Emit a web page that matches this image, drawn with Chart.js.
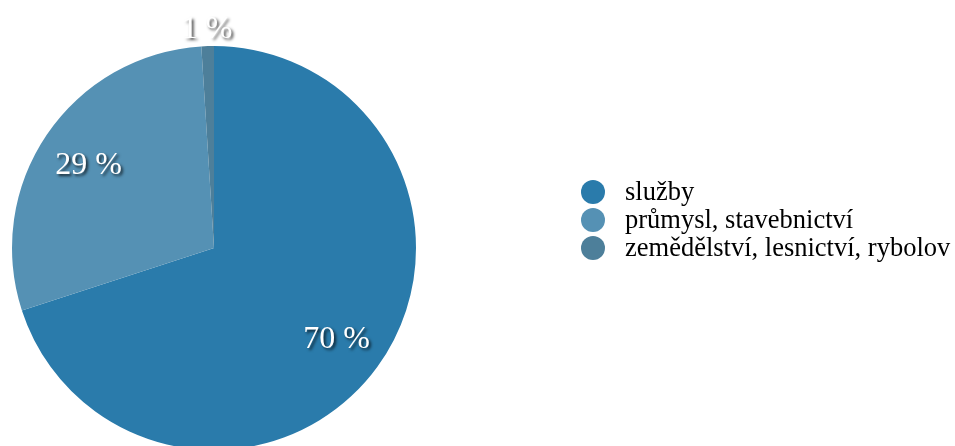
<!DOCTYPE html>
<html>
<head>
<meta charset="utf-8">
<script src="https://cdn.jsdelivr.net/npm/chart.js@4"></script>
<style>
  html, body { margin: 0; padding: 0; background: #fff; overflow: hidden; }
  #wrap { width: 955px; height: 450px; position: relative; }
</style>
</head>
<body>
<div id="wrap"><canvas id="pie"></canvas></div>
<script>
// data
const categories = ["služby", "průmysl, stavebnictví", "zemědělství, lesnictví, rybolov"];
const shares = [70, 29, 1];
const sliceColors = ["#2a7bab", "#5591b4", "#4d7f9a"];

// percent labels on the slices (small ones go outside)
const sliceLabels = {
  id: "sliceLabels",
  afterDatasetsDraw(chart) {
    const ctx = chart.ctx;
    const meta = chart.getDatasetMeta(0);
    ctx.save();
    ctx.font = "32px 'Liberation Serif', 'Times New Roman', serif";
    ctx.textAlign = "center";
    ctx.textBaseline = "middle";
    ctx.fillStyle = "#ffffff";
    ctx.shadowColor = "rgba(0,0,0,0.75)";
    ctx.shadowBlur = 3;
    ctx.shadowOffsetX = 2;
    ctx.shadowOffsetY = 2;
    meta.data.forEach((arc, i) => {
      const p = arc.getProps(["x", "y", "startAngle", "endAngle", "outerRadius"], true);
      const mid = (p.startAngle + p.endAngle) / 2;
      const dist = shares[i] < 5 ? p.outerRadius + 20 : p.outerRadius * 0.75;
      ctx.fillText(shares[i] + " %", p.x + Math.cos(mid) * dist, p.y + Math.sin(mid) * dist + 3);
    });
    ctx.restore();
  }
};

// legend drawn to the right of the pie
const sideLegend = {
  id: "sideLegend",
  afterDraw(chart) {
    const ctx = chart.ctx;
    ctx.save();
    ctx.font = "26.5px 'Liberation Serif', 'Times New Roman', serif";
    ctx.textBaseline = "alphabetic";
    categories.forEach((name, i) => {
      const cy = 192 + i * 28;
      ctx.beginPath();
      ctx.arc(593, cy, 12, 0, Math.PI * 2);
      ctx.fillStyle = sliceColors[i];
      ctx.fill();
      ctx.fillStyle = "#000";
      ctx.fillText(name, 625, cy + 8);
    });
    ctx.restore();
  }
};

new Chart(document.getElementById("pie"), {
  type: "pie",
  data: {
    labels: categories,
    datasets: [{
      data: shares,
      backgroundColor: sliceColors,
      borderWidth: 0
    }]
  },
  options: {
    responsive: true,
    maintainAspectRatio: false,
    animation: false,
    layout: { padding: { top: 46, bottom: 0, left: 0, right: 527 } },
    plugins: {
      legend: { display: false },
      tooltip: { enabled: false }
    }
  },
  plugins: [sliceLabels, sideLegend]
});
</script>
</body>
</html>
